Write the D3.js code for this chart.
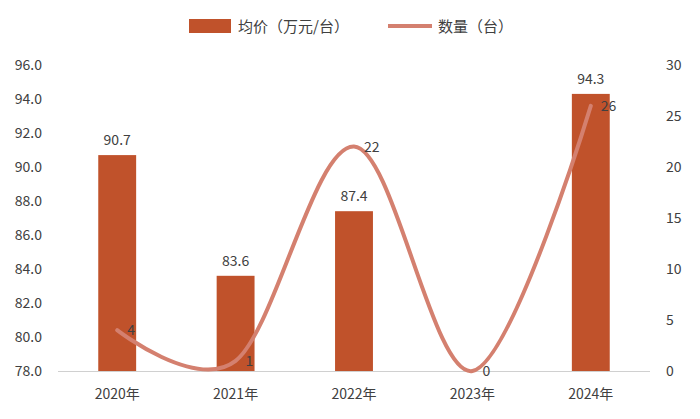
<!DOCTYPE html>
<html><head><meta charset="utf-8">
<script src="https://cdn.jsdelivr.net/npm/d3@7"></script>
<style>body{margin:0;background:#fff}text{font-family:"Noto Sans CJK SC","Noto Sans",sans-serif}</style>
</head><body><svg id="c" width="700" height="419"></svg>
<script>
const categories=["2020年","2021年","2022年","2023年","2024年"];
const prices=[90.7,83.6,87.4,null,94.3];
const counts=[4,1,22,0,26];
const leftTicks=[78,80,82,84,86,88,90,92,94,96];
const rightTicks=[0,5,10,15,20,25,30];
const svg=d3.select("#c");
const x=d3.scaleBand().domain(categories).range([58,650]).paddingInner(0.68).paddingOuter(0.34);
const yL=d3.scaleLinear().domain([78,96]).range([371,65]);
const yR=d3.scaleLinear().domain([0,30]).range([371,65]);
const barColor="#C0522B", lineColor="#D4806F";
// axes labels
svg.append("g").selectAll("text").data(leftTicks).join("text")
 .attr("x",42).attr("y",d=>yL(d)+5).attr("text-anchor","end").attr("font-size",14).attr("fill","#404040").text(d=>d.toFixed(1));
svg.append("g").selectAll("text").data(rightTicks).join("text")
 .attr("x",666).attr("y",d=>yR(d)+5).attr("text-anchor","start").attr("font-size",14).attr("fill","#404040").text(d=>d);
svg.append("line").attr("x1",58).attr("x2",650).attr("y1",371.5).attr("y2",371.5).attr("stroke","#d0d0d0");
svg.append("g").selectAll("text").data(categories).join("text")
 .attr("x",d=>x(d)+x.bandwidth()/2).attr("y",399).attr("text-anchor","middle").attr("font-size",14).attr("fill","#404040").text(d=>d);
// bars
const bd=categories.map((c,i)=>({c,v:prices[i]})).filter(d=>d.v!=null);
svg.append("g").selectAll("rect").data(bd).join("rect")
 .attr("x",d=>x(d.c)).attr("width",x.bandwidth()).attr("y",d=>yL(d.v)).attr("height",d=>yL(78)-yL(d.v)).attr("fill",barColor);
svg.append("g").selectAll("text").data(bd).join("text")
 .attr("x",d=>x(d.c)+x.bandwidth()/2).attr("y",d=>yL(d.v)-10).attr("text-anchor","middle").attr("font-size",14).attr("fill","#404040").text(d=>d.v.toFixed(1));
// line
const ld=categories.map((c,i)=>({c,v:counts[i]}));
const cx=d=>x(d.c)+x.bandwidth()/2;
svg.append("path").datum(ld).attr("fill","none").attr("stroke",lineColor).attr("stroke-width",4).attr("stroke-linecap","round")
 .attr("d",d3.line().x(cx).y(d=>yR(d.v)).curve(d3.curveCardinal.tension(0)));
svg.append("g").selectAll("text").data(ld).join("text")
 .attr("x",d=>cx(d)+10).attr("y",d=>yR(d.v)+5).attr("font-size",14).attr("fill","#404040").text(d=>d.v);
// legend
const lg=svg.append("g");
lg.append("rect").attr("x",189).attr("y",19).attr("width",42).attr("height",14).attr("fill",barColor);
lg.append("text").attr("x",238).attr("y",32).attr("font-size",15).attr("fill","#404040").text("均价（万元/台）");
lg.append("line").attr("x1",388).attr("x2",432).attr("y1",26).attr("y2",26).attr("stroke",lineColor).attr("stroke-width",4);
lg.append("text").attr("x",438).attr("y",32).attr("font-size",15).attr("fill","#404040").text("数量（台）");
</script></body></html>
